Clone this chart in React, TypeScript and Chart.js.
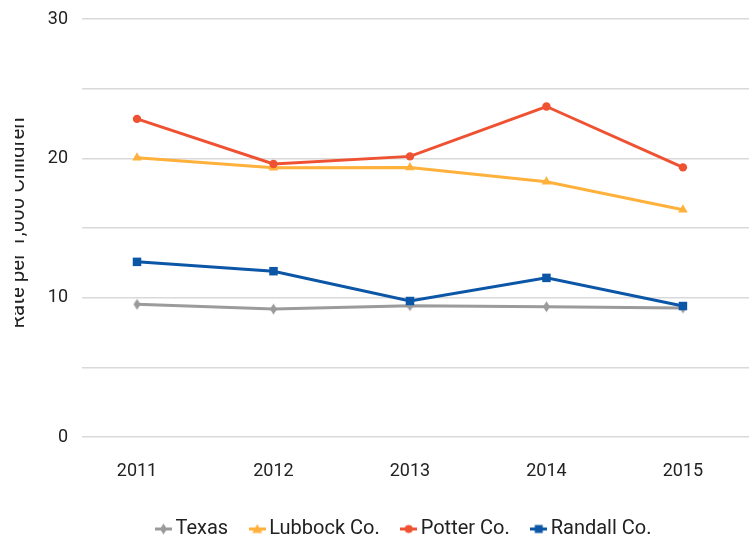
import React, { useEffect, useRef } from 'react';
import { Chart, registerables } from 'chart.js';

Chart.register(...registerables);

// ---- data ----
const years = [2011, 2012, 2013, 2014, 2015];
const yTickLabels = [0, 10, 20, 30];
const seriesNames = ['Texas', 'Lubbock Co.', 'Potter Co.', 'Randall Co.'];
const texas = [9.52, 9.18, 9.42, 9.35, 9.26];
const lubbock = [20.05, 19.33, 19.35, 18.32, 16.31];
const potter = [22.83, 19.59, 20.14, 23.72, 19.35];
const randall = [12.57, 11.9, 9.76, 11.42, 9.4];
const yTitle = 'Rate per 1,000 Children';

const COLORS = ['#9b9b9b', '#ffb13b', '#ef5232', '#0b56a6'];
const TEXT = '#222222';
const FONT = 'Roboto';

type Shape = 'diamond' | 'triangle' | 'circle' | 'square';

function drawShape(ctx: CanvasRenderingContext2D, shape: Shape, cx: number, cy: number, color: string) {
  ctx.fillStyle = color;
  ctx.beginPath();
  if (shape === 'diamond') {
    ctx.moveTo(cx, cy - 5.5);
    ctx.lineTo(cx + 3.5, cy);
    ctx.lineTo(cx, cy + 5.5);
    ctx.lineTo(cx - 3.5, cy);
    ctx.closePath();
  } else if (shape === 'triangle') {
    ctx.moveTo(cx, cy - 5);
    ctx.lineTo(cx + 5, cy + 4);
    ctx.lineTo(cx - 5, cy + 4);
    ctx.closePath();
  } else if (shape === 'circle') {
    ctx.arc(cx, cy, 4, 0, Math.PI * 2);
  } else {
    ctx.rect(cx - 4, cy - 4, 8, 8);
  }
  ctx.fill();
}

function makeIcon(shape: Shape, color: string, withLine: boolean, w: number, h: number) {
  const c = document.createElement('canvas');
  c.width = w;
  c.height = h;
  const ctx = c.getContext('2d')!;
  if (withLine) {
    ctx.strokeStyle = color;
    ctx.lineWidth = 3;
    ctx.beginPath();
    ctx.moveTo(0, h / 2);
    ctx.lineTo(w, h / 2);
    ctx.stroke();
  }
  drawShape(ctx, shape, w / 2, h / 2, color);
  return c;
}

const SHAPES: Shape[] = ['diamond', 'triangle', 'circle', 'square'];

export default function App() {
  const ref = useRef<HTMLCanvasElement | null>(null);

  useEffect(() => {
    document.body.style.margin = '0';
    const canvas = ref.current;
    if (!canvas) return;

    const legendIcons = SHAPES.map((s, i) => makeIcon(s, COLORS[i], true, 17, 13));
    const diamondPoint = makeIcon('diamond', COLORS[0], false, 9, 13);

    const titlePlugin = {
      id: 'yTitleClipped',
      afterLayout(chart: any) {
        // let the y tick labels extend left of the axis box without being clipped
        chart.scales.y.left = 0;
      },
      afterDraw(chart: any) {
        const ctx = chart.ctx as CanvasRenderingContext2D;
        ctx.save();
        ctx.beginPath();
        ctx.rect(15, 0, 60, chart.height);
        ctx.clip();
        ctx.translate(24, 223);
        ctx.rotate(-Math.PI / 2);
        ctx.font = `20.5px ${FONT}`;
        ctx.fillStyle = TEXT;
        ctx.textAlign = 'center';
        ctx.textBaseline = 'alphabetic';
        ctx.fillText(yTitle, 0, 0);
        ctx.restore();
      },
    };

    const seriesValues = [texas, lubbock, potter, randall];
    const datasets = seriesValues.map((vals, i) => ({
      label: seriesNames[i],
      data: vals.map((v, j) => ({ x: years[j], y: v })),
      borderColor: COLORS[i],
      backgroundColor: COLORS[i],
      borderWidth: 3,
      tension: 0,
      pointStyle: i === 0 ? (diamondPoint as any) : i === 1 ? 'triangle' : i === 2 ? 'circle' : 'rect',
      pointRadius: i === 1 ? 5.5 : i === 2 ? 4.2 : i === 3 ? 6 : 5,
      pointBorderWidth: 0,
      pointBackgroundColor: COLORS[i],
      pointBorderColor: COLORS[i],
      order: 4 - i,
    }));

    const chart = new Chart(canvas, {
      type: 'line',
      data: { datasets },
      plugins: [titlePlugin],
      options: {
        responsive: false,
        animation: false,
        events: [],
        layout: { autoPadding: false, padding: { left: 64, right: 0, top: 19, bottom: 0 } },
        scales: {
          x: {
            type: 'linear',
            min: 2010.597,
            max: 2015.484,
            grid: { display: false },
            border: { display: false },
            ticks: {
              stepSize: 1,
              includeBounds: false,
              autoSkip: false,
              maxRotation: 0,
              padding: 16,
              color: TEXT,
              font: { family: FONT, size: 18 },
              callback: (v: any) => (years.includes(Number(v)) ? String(v) : ''),
            },
            afterFit: (s: any) => {
              s.height = 55;
              s.paddingLeft = 0;
              s.paddingRight = 0;
            },
          },
          y: {
            min: 0,
            max: 30,
            grid: { color: '#d9d9d9', lineWidth: 1.5, drawTicks: false },
            border: { display: false },
            ticks: {
              stepSize: 5,
              padding: 14,
              color: TEXT,
              font: { family: FONT, size: 18 },
              callback: (v: any) => (yTickLabels.includes(Number(v)) ? String(v) : ''),
            },
            afterFit: (s: any) => {
              s.width = 18;
              s.paddingTop = 0;
              s.paddingBottom = 0;
            },
          },
        },
        plugins: {
          title: { display: false },
          tooltip: { enabled: false },
          legend: {
            position: 'bottom',
            maxHeight: 47,
            labels: {
              usePointStyle: true,
              pointStyleWidth: 4,
              padding: 27,
              color: TEXT,
              font: { family: FONT, size: 20 },
              generateLabels: (ch: any) => {
                const items = Chart.defaults.plugins.legend.labels.generateLabels(ch);
                items.sort((a: any, b: any) => a.datasetIndex - b.datasetIndex);
                items.forEach((it: any) => {
                  it.pointStyle = legendIcons[it.datasetIndex];
                });
                return items;
              },
            },
          },
        },
      } as any,
    });

    return () => {
      chart.destroy();
    };
  }, []);

  return (
    <div style={{ width: 749, height: 539, position: 'relative' }}>
      <canvas ref={ref} width={749} height={539} style={{ display: 'block' }} />
    </div>
  );
}
